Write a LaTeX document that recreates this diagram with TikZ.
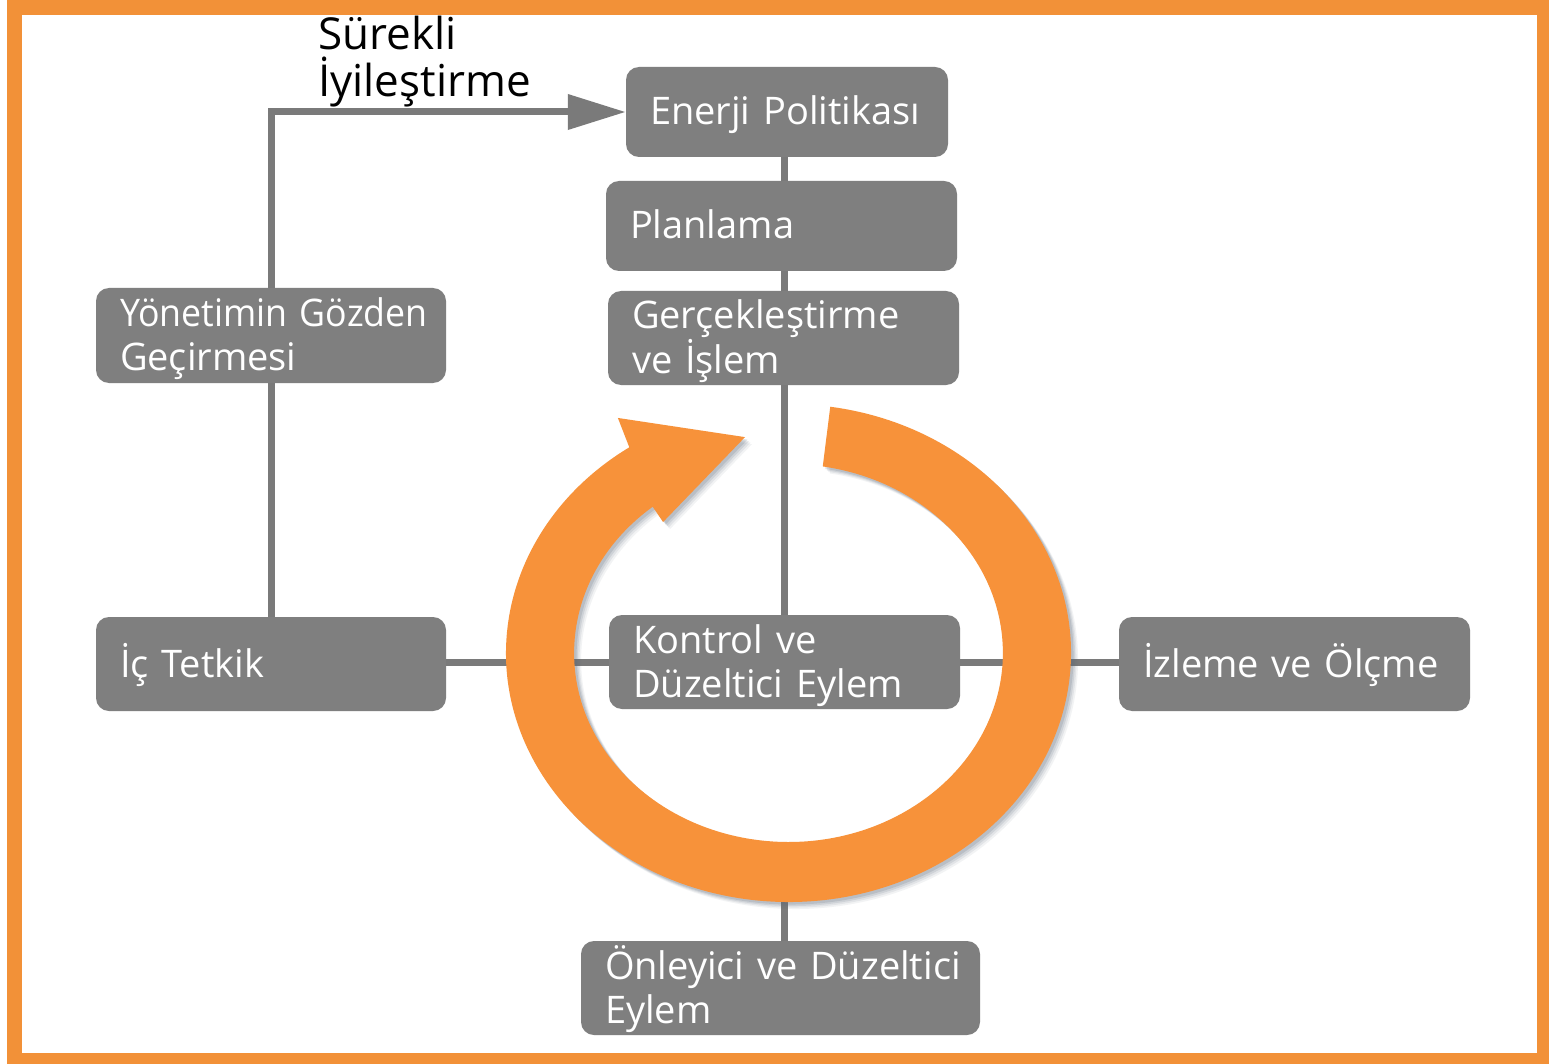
\documentclass[tikz,border=0pt]{standalone}
\usepackage{graphicx}
\usepackage{fontspec}
\setmainfont{Open Sans}
\usetikzlibrary{arrows.meta}
\definecolor{frameorange}{HTML}{F29138}
\definecolor{ringorange}{HTML}{F7923A}
\definecolor{boxgray}{HTML}{7F7F7F}
\definecolor{linegray}{HTML}{7A7A7A}
\definecolor{shadowgray}{HTML}{5A6878}
\pgfdeclarelayer{bg}
\pgfdeclarelayer{mid}
\pgfsetlayers{bg,mid,main}
% outline of the circular arrow, in ellipse-normalised coordinates
\newcommand\cyclearrowpath{%
  (81.5:1) arc[start angle=81.5, end angle=-235.7, x radius=282.5pt, y radius=249pt]
  -- (-0.604,0.944) -- (-0.154,0.867) -- (-0.444,0.526)
  -- (-230.7:0.759) arc[start angle=-230.7, end angle=80.8, x radius=214.4pt, y radius=189pt]
  -- cycle}
\begin{document}
\begin{tikzpicture}[x=1pt,y=-1pt,
  stage/.style={fill=boxgray, rounded corners=13pt, text=white, align=left,
    inner xsep=24pt, inner ysep=0pt, font=\fontsize{38pt}{44pt}\selectfont,
    execute at begin node={\rule{0pt}{36pt}},
    execute at end node={\rule[-10pt]{0pt}{10pt}}},
  link/.style={draw=linegray, line width=7pt},
]
\useasboundingbox (0,0) rectangle (1549,1064);

% process stages
\node[stage, minimum width=322pt, minimum height=90pt, text width=274pt] (pol) at (787,112) {\mbox{Enerji Politikası}};
\node[stage, minimum width=351pt, minimum height=90pt, text width=303pt] (plan) at (781.5,226) {Planlama};
\node[stage, minimum width=351pt, minimum height=94pt, text width=303pt] (ger) at (783.5,338) {Gerçekleştirme\\ve İşlem};
\node[stage, minimum width=350pt, minimum height=95pt, text width=302pt] (yon) at (271,335.5) {\scalebox{0.94}[1]{Yönetimin Gözden}\\Geçirmesi};
\node[stage, minimum width=350pt, minimum height=94pt, text width=302pt] (ic) at (271,664) {İç Tetkik};
\node[stage, minimum width=351pt, minimum height=94pt, text width=303pt] (kon) at (784.5,662) {Kontrol ve\\\mbox{Düzeltici Eylem}};
\node[stage, minimum width=351pt, minimum height=94pt, text width=303pt] (izl) at (1294.5,664) {\mbox{İzleme ve Ölçme}};
\node[stage, minimum width=399pt, minimum height=94pt, text width=351pt] (onl) at (780.5,988) {\mbox{Önleyici ve Düzeltici}\\Eylem};

\node[anchor=west, inner sep=0pt, align=left, font=\fontsize{44pt}{47pt}\selectfont] (lbl) at (318,62) {Sürekli\\İyileştirme};

% lower end of the feedback line, hidden under the ring
\coordinate (ringbot) at (784.5,890);

% frame and connectors
\begin{pgfonlayer}{bg}
  \fill[white] (0,0) rectangle (1549,1064);
  \fill[frameorange] (7,0) rectangle (1549,1064);
  \fill[white] (22,15) rectangle (1537,1053);
  \draw[link, -{Triangle[length=58pt, width=34pt]}] (ic.north) |- (pol.west);
  \draw[link] (pol.south -| kon.north) -- (kon.north);
  \draw[link] (ringbot) -- (ringbot |- onl.north);
  \draw[link] (ic.east |- kon.west) -- (kon.west);
  \draw[link] (kon.east) -- (kon.east -| izl.west);
\end{pgfonlayer}

% circular arrow with a soft drop shadow
\begin{pgfonlayer}{mid}
\begin{scope}[shift={(788.5pt,-653pt)}, x=282.5pt, y=249pt]
  \foreach \d/\o in {7/0.08, 5.5/0.10, 4/0.14, 2.5/0.18}{
    \fill[shadowgray, opacity=\o, xshift=\d pt, yshift=-\d pt] \cyclearrowpath;
  }
  \fill[ringorange] \cyclearrowpath;
\end{scope}
\end{pgfonlayer}
\end{tikzpicture}
\end{document}
